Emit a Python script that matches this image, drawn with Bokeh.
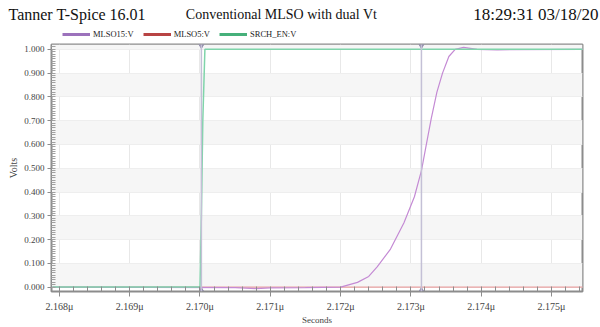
from bokeh.plotting import figure
from bokeh.layouts import column
from bokeh.models import (Range1d, FixedTicker, CustomJSTickFormatter, Legend, LegendItem,
                          Label, Span, PrintfTickFormatter)
from bokeh.embed import file_html
from bokeh.resources import INLINE

# ---- data (time in microseconds, volts) ----
t_mlso15 = [2.1679, 2.1705, 2.1708, 2.1710, 2.1715, 2.1720, 2.17224, 2.17240, 2.17252,
            2.17271, 2.17290, 2.17305, 2.17315, 2.17322, 2.17329, 2.17337, 2.17345,
            2.17354, 2.17363, 2.17375, 2.17394, 2.17423, 2.1755]
v_mlso15 = [0.0, -0.002, -0.006, -0.003, -0.002, 0.0, 0.02, 0.045, 0.085,
            0.16, 0.27, 0.38, 0.49, 0.60, 0.71, 0.82, 0.90,
            0.97, 1.0, 1.008, 1.0, 0.998, 1.0]
t_mlso5 = [2.1679, 2.1755]
v_mlso5 = [0.0, 0.0]
t_srch = [2.1679, 2.17000, 2.17002, 2.17004, 2.17007, 2.1755]
v_srch = [0.0, 0.0, 0.3, 0.7, 1.0, 1.0]
cursors = [2.17002, 2.17315]
x_ticks = [2.168, 2.169, 2.170, 2.171, 2.172, 2.173, 2.174, 2.175]
y_ticks = [0.0, 0.1, 0.2, 0.3, 0.4, 0.5, 0.6, 0.7, 0.8, 0.9, 1.0]
series_names = ["MLSO15:V", "MLSO5:V", "SRCH_EN:V"]
legend_colors = ["#9c72bc", "#b84444", "#46b07a"]
header = ["Tanner T-Spice 16.01", "Conventional MLSO with dual Vt", "18:29:31 03/18/20"]

SERIF = "Liberation Serif"

# ---------------- header strip (title texts + legend) ----------------
h = figure(width=600, height=42, output_backend="svg", toolbar_location=None,
           x_range=Range1d(0, 600), y_range=Range1d(42, 0),
           x_axis_type=None, y_axis_type=None,
           min_border_left=0, min_border_right=0, min_border_top=0, min_border_bottom=0)
h.frame_align = False
h.outline_line_color = None
h.xgrid.visible = False
h.ygrid.visible = False
h.background_fill_color = "white"
h.border_fill_color = "white"

for txt, x, align, size in [(header[0], 8, "left", "16px"),
                            (header[1], 281, "center", "14px"),
                            (header[2], 598, "right", "17px")]:
    h.add_layout(Label(x=x, y=14, text=txt, text_font=SERIF, text_font_size=size,
                       text_align=align, text_baseline="middle", text_color="#111111"))

# legend swatch renderers: their single segment lies outside the visible range
swatches = [h.line([-1000, -999], [-1000, -1000], line_color=c, line_width=3)
            for c in legend_colors]
legend = Legend(items=[LegendItem(label=n, renderers=[r]) for n, r in zip(series_names, swatches)],
                orientation="horizontal", location=(62, 3),
                label_text_font=SERIF, label_text_font_size="8.5px",
                label_text_color="#222222",
                label_height=10, glyph_height=10, glyph_width=28,
                spacing=9, padding=0, margin=0, label_standoff=3,
                background_fill_alpha=0, border_line_alpha=0)
h.add_layout(legend)

# ---------------- main plot ----------------
p = figure(width=600, height=285, output_backend="svg", toolbar_location=None,
           x_range=Range1d(2.167888, 2.175441), y_range=Range1d(-0.0184, 1.0204),
           min_border_left=51, min_border_right=18, min_border_top=2, min_border_bottom=29)
p.frame_align = False
p.background_fill_color = "white"
p.border_fill_color = "white"
p.outline_line_color = "#8c8c8c"
p.outline_line_width = 2

# grid
p.xgrid.ticker = FixedTicker(ticks=x_ticks)
p.ygrid.ticker = FixedTicker(ticks=y_ticks)
p.xgrid.grid_line_color = "#e8e8e8"
p.ygrid.grid_line_color = "#eeeeee"
p.ygrid.band_fill_color = "#f6f6f6"
p.ygrid.band_fill_alpha = 1.0

# x axis
xa = p.xaxis[0]
xa.ticker = FixedTicker(ticks=x_ticks,
                        minor_ticks=[2.168 + 0.0002 * i for i in range(-1, 38)])
xa.formatter = CustomJSTickFormatter(code="return tick.toFixed(3) + '\u03bc';")
xa.axis_label = "Seconds"
xa.axis_label_text_font = SERIF
xa.axis_label_text_font_style = "normal"
xa.axis_label_text_font_size = "9px"
xa.axis_label_standoff = 0
xa.major_label_text_font = SERIF
xa.major_label_text_font_size = "10px"
xa.major_label_standoff = 4
xa.axis_line_color = "#8c8c8c"
xa.major_tick_line_color = "#8c8c8c"
xa.minor_tick_line_color = "#8c8c8c"
xa.major_tick_out = 5
xa.major_tick_in = 0
xa.minor_tick_in = 5
xa.minor_tick_out = 0

# y axis
ya = p.yaxis[0]
ya.ticker = FixedTicker(ticks=y_ticks,
                        minor_ticks=[0.01 * i for i in range(0, 102)])
ya.formatter = PrintfTickFormatter(format="%.3f")
ya.axis_label = "Volts"
ya.axis_label_text_font = SERIF
ya.axis_label_text_font_style = "normal"
ya.axis_label_text_font_size = "10px"
ya.axis_label_standoff = 2
ya.major_label_text_font = SERIF
ya.major_label_text_font_size = "9px"
ya.major_label_standoff = 3
ya.axis_line_color = "#8c8c8c"
ya.major_tick_line_color = "#8c8c8c"
ya.minor_tick_line_color = "#a0a0a0"
ya.major_tick_out = 4
ya.major_tick_in = 0
ya.minor_tick_in = 4
ya.minor_tick_out = 0

# cursors
for c in cursors:
    p.add_layout(Span(location=c, dimension="height", line_color="#c4c0d6", line_width=1.5))
p.scatter(x=cursors, y=[1.0204] * len(cursors), marker="inverted_triangle", size=7,
          color="#8f8aa8")
p.scatter(x=cursors, y=[-0.0184] * len(cursors), marker="triangle", size=7,
          color="#8f8aa8")

# series
p.line(t_mlso5, v_mlso5, line_color="#e8a0a0", line_width=1.2)
p.line(t_mlso15, v_mlso15, line_color="#c48ad4", line_width=1.2)
p.line(t_srch, v_srch, line_color="#7fd4aa", line_width=1.5)

layout = column(h, p, spacing=0)
open("out.html", "w").write(file_html(layout, INLINE))
